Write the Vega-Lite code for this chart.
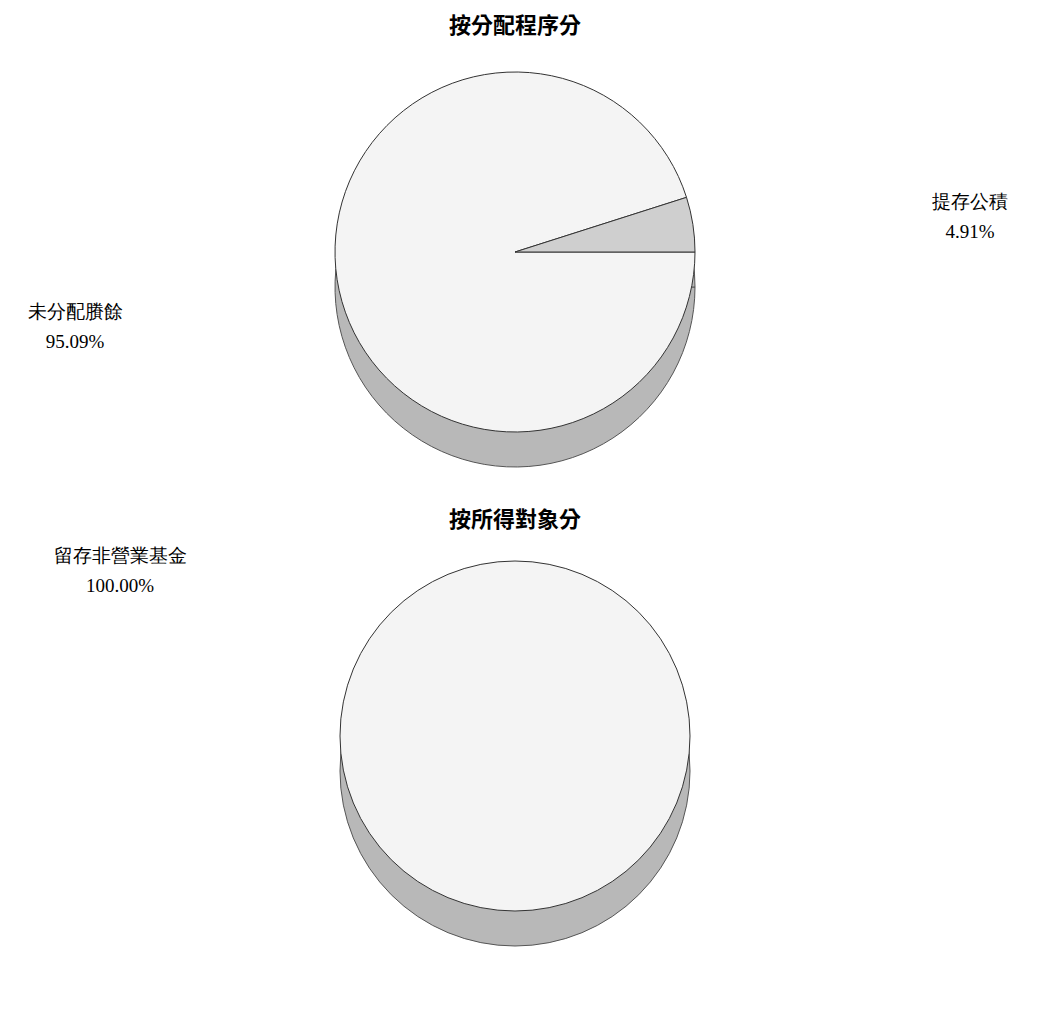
{
  "$schema": "https://vega.github.io/schema/vega-lite/v6.json",
  "background": "white",
  "padding": {"top": 15, "left": 5, "right": 5, "bottom": 5},
  "config": {"view": {"stroke": null}, "title": {"fontSize": 22, "fontWeight": "bold", "font": "Noto Sans CJK TC", "color": "black"}},
  "spacing": 40,
  "vconcat": [
    {
      "title": "按分配程序分",
      "width": 1020, "height": 420,
      "data": {"values": [
        {"item": "未分配賸餘", "pct": 95.09, "label": ["未分配賸餘", "95.09%"]},
        {"item": "提存公積", "pct": 4.91, "label": ["提存公積", "4.91%"]}
      ]},
      "encoding": {
        "theta": {"field": "pct", "type": "quantitative", "stack": true, "scale": {"range": [1.5708, 7.854]}},
        "order": {"field": "pct", "sort": "descending"}
      },
      "layer": [
        {"mark": {"type": "arc", "outerRadius": 180, "yOffset": 35, "fill": "#b8b8b8", "stroke": "#555", "strokeWidth": 1}},
        {"mark": {"type": "arc", "outerRadius": 180, "stroke": "#333", "strokeWidth": 1},
         "encoding": {"fill": {"field": "item", "type": "nominal", "scale": {"domain": ["未分配賸餘", "提存公積"], "range": ["#f4f4f4", "#cfcfcf"]}, "legend": null}}},
        {"transform": [{"filter": "datum.item == '提存公積'"}],
         "mark": {"type": "text", "fontSize": 19, "font": "Liberation Serif", "color": "black", "dx": 455, "dy": -50, "lineHeight": 30},
         "encoding": {"text": {"field": "label"}, "theta": {"value": 0}, "radius": {"value": 0}}},
        {"transform": [{"filter": "datum.item == '未分配賸餘'"}],
         "mark": {"type": "text", "fontSize": 19, "font": "Liberation Serif", "color": "black", "dx": -440, "dy": 60, "lineHeight": 30},
         "encoding": {"text": {"field": "label"}, "theta": {"value": 0}, "radius": {"value": 0}}}
      ]
    },
    {
      "title": "按所得對象分",
      "width": 1020, "height": 400,
      "data": {"values": [
        {"item": "留存非營業基金", "pct": 100, "label": ["留存非營業基金", "100.00%"]}
      ]},
      "encoding": {
        "theta": {"field": "pct", "type": "quantitative", "stack": true}
      },
      "layer": [
        {"mark": {"type": "arc", "outerRadius": 175, "yOffset": 35, "fill": "#b8b8b8", "stroke": "#555", "strokeWidth": 1}},
        {"mark": {"type": "arc", "outerRadius": 175, "fill": "#f4f4f4", "stroke": "#333", "strokeWidth": 1}},
        {"mark": {"type": "text", "fontSize": 19, "font": "Liberation Serif", "color": "black", "dx": -395, "dy": -180, "lineHeight": 30},
         "encoding": {"text": {"field": "label"}, "theta": {"value": 0}, "radius": {"value": 0}}}
      ]
    }
  ]
}
